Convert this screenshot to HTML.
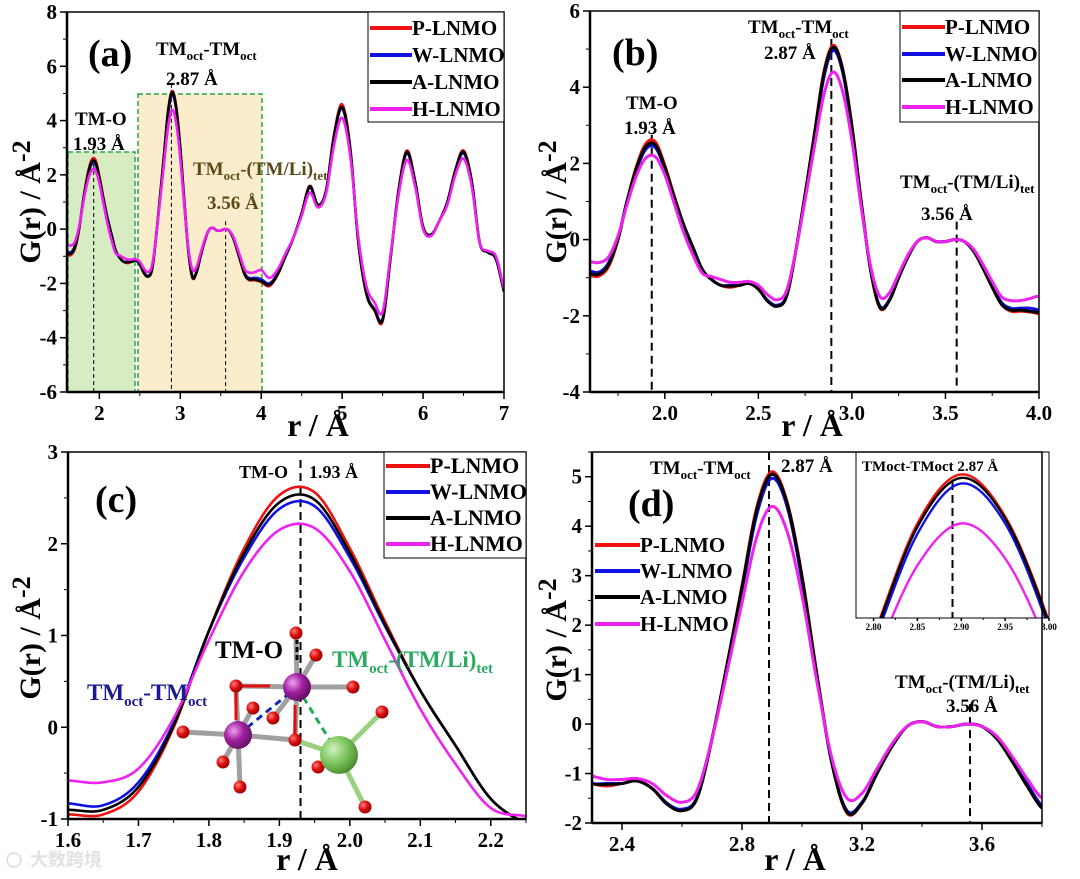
<!DOCTYPE html>
<html><head><meta charset="utf-8">
<style>
html,body{margin:0;padding:0;background:#fff;}
svg{display:block;font-family:"Liberation Serif","Noto Serif CJK SC",serif;font-weight:bold;}
</style></head>
<body>
<svg id="fig" width="1080" height="879" viewBox="0 0 1080 879" xmlns="http://www.w3.org/2000/svg">
<defs>
<clipPath id="clipA"><rect x="67" y="12" width="437" height="380"/></clipPath>
<clipPath id="clipB"><rect x="590" y="11" width="449" height="381"/></clipPath>
<clipPath id="clipC"><rect x="68" y="452" width="458" height="367"/></clipPath>
<clipPath id="clipD"><rect x="592" y="452" width="450" height="371"/></clipPath>
<clipPath id="clipI"><rect x="856" y="452" width="193" height="166"/></clipPath>
<radialGradient id="gP" cx="0.35" cy="0.35" r="0.7"><stop offset="0" stop-color="#f0a0f0"/><stop offset="0.5" stop-color="#a020a0"/><stop offset="1" stop-color="#601060"/></radialGradient>
<radialGradient id="gR" cx="0.35" cy="0.35" r="0.7"><stop offset="0" stop-color="#ff8080"/><stop offset="0.5" stop-color="#e01010"/><stop offset="1" stop-color="#900000"/></radialGradient>
<radialGradient id="gG" cx="0.35" cy="0.35" r="0.7"><stop offset="0" stop-color="#d0f0c0"/><stop offset="0.5" stop-color="#80c860"/><stop offset="1" stop-color="#4a8a30"/></radialGradient>
</defs>

<rect x="68" y="152" width="67" height="240" fill="#d8ecc4" stroke="#22aa44" stroke-width="1.5" stroke-dasharray="5,3"/>
<rect x="138" y="94" width="124" height="298" fill="#fbeccb" stroke="#22aa44" stroke-width="1.5" stroke-dasharray="5,3"/>

<g id="inset-bg"><rect x="856" y="452" width="193" height="166" fill="#fff"/></g>
<g id="series"></g>
<g id="axes"></g>

<text x="88" y="66" font-size="38">(a)</text>
<text x="156" y="55" font-size="19">TM<tspan font-size="13" dy="5">oct</tspan><tspan dy="-5">-TM</tspan><tspan font-size="13" dy="5">oct</tspan></text>
<text x="166" y="85" font-size="19">2.87 Å</text>
<text x="75" y="125" font-size="19">TM-O</text>
<text x="73" y="150" font-size="19">1.93 Å</text>
<text x="193" y="175" font-size="19" fill="#5a4a1a">TM<tspan font-size="13" dy="5">oct</tspan><tspan dy="-5">-(TM/Li)</tspan><tspan font-size="13" dy="5">tet</tspan></text>
<text x="207" y="209" font-size="19" fill="#5a4a1a">3.56 Å</text>

<text x="612" y="65" font-size="38">(b)</text>
<text x="626" y="109" font-size="19">TM-O</text>
<text x="624" y="134" font-size="19">1.93 Å</text>
<text x="748" y="33" font-size="19">TM<tspan font-size="13" dy="5">oct</tspan><tspan dy="-5">-TM</tspan><tspan font-size="13" dy="5">oct</tspan></text>
<text x="764" y="59" font-size="19">2.87 Å</text>
<text x="900" y="188" font-size="19">TM<tspan font-size="13" dy="5">oct</tspan><tspan dy="-5">-(TM/Li)</tspan><tspan font-size="13" dy="5">tet</tspan></text>
<text x="921" y="220" font-size="19">3.56 Å</text>

<text x="95" y="512" font-size="38">(c)</text>
<text x="239" y="478" font-size="18">TM-O</text>
<text x="309" y="478" font-size="18">1.93 Å</text>

<g id="molecule">
 <g stroke="#a0a0a0" stroke-width="5">
  <line x1="297" y1="687" x2="296" y2="633"/><line x1="297" y1="687" x2="316" y2="655"/>
  <line x1="297" y1="687" x2="236" y2="686"/><line x1="297" y1="687" x2="353" y2="687"/>
  <line x1="297" y1="687" x2="273" y2="718"/><line x1="297" y1="687" x2="295" y2="740"/>
  <line x1="238" y1="735" x2="253" y2="708"/><line x1="238" y1="735" x2="183" y2="732"/>
  <line x1="238" y1="735" x2="295" y2="740"/><line x1="238" y1="735" x2="223" y2="762"/>
  <line x1="238" y1="735" x2="240" y2="787"/><line x1="238" y1="735" x2="236" y2="686"/>
 </g>
 <g stroke="#9ad080" stroke-width="5">
  <line x1="339" y1="755" x2="382" y2="712"/><line x1="339" y1="755" x2="365" y2="807"/>
  <line x1="339" y1="755" x2="295" y2="740"/><line x1="339" y1="755" x2="318" y2="767"/>
 </g>
 <g stroke="#e01010" stroke-width="3">
  <line x1="236" y1="686" x2="270" y2="686"/><line x1="236" y1="686" x2="236" y2="720"/>
  <line x1="295" y1="740" x2="295" y2="705"/>
 </g>
 <line x1="238" y1="735" x2="297" y2="687" stroke="#1a2ab0" stroke-width="3" stroke-dasharray="7,5"/>
 <line x1="297" y1="687" x2="345" y2="765" stroke="#22aa55" stroke-width="3" stroke-dasharray="7,5"/>
 <line x1="297" y1="660" x2="297" y2="640" stroke="#000" stroke-width="3" stroke-dasharray="5,3"/>
 <g fill="url(#gR)">
  <circle cx="296" cy="633" r="6.5"/><circle cx="316" cy="655" r="6.5"/><circle cx="236" cy="686" r="6.5"/>
  <circle cx="353" cy="687" r="6.5"/><circle cx="253" cy="708" r="6.5"/><circle cx="273" cy="718" r="6.5"/>
  <circle cx="183" cy="732" r="6.5"/><circle cx="295" cy="740" r="6.5"/><circle cx="223" cy="762" r="6.5"/>
  <circle cx="318" cy="767" r="6.5"/><circle cx="240" cy="787" r="6.5"/><circle cx="382" cy="712" r="6.5"/>
  <circle cx="365" cy="807" r="6.5"/>
 </g>
 <circle cx="297" cy="687" r="14" fill="url(#gP)"/>
 <circle cx="238" cy="735" r="14" fill="url(#gP)"/>
 <circle cx="339" cy="755" r="19" fill="url(#gG)"/>
</g>
<text x="215" y="658" font-size="25">TM-O</text>
<text x="332" y="667" font-size="23" fill="#2aaa60">TM<tspan font-size="15" dy="6">oct</tspan><tspan dy="-6">-(TM/Li)</tspan><tspan font-size="15" dy="6">tet</tspan></text>
<text x="87" y="700" font-size="23" fill="#1a1a90">TM<tspan font-size="15" dy="6">oct</tspan><tspan dy="-6">-TM</tspan><tspan font-size="15" dy="6">oct</tspan></text>

<text x="628" y="516" font-size="38">(d)</text>
<text x="650" y="474" font-size="19">TM<tspan font-size="13" dy="5">oct</tspan><tspan dy="-5">-TM</tspan><tspan font-size="13" dy="5">oct</tspan></text>
<text x="781" y="472" font-size="19">2.87 Å</text>
<text x="895" y="688" font-size="19">TM<tspan font-size="13" dy="5">oct</tspan><tspan dy="-5">-(TM/Li)</tspan><tspan font-size="13" dy="5">tet</tspan></text>
<text x="946" y="712" font-size="19">3.56 Å</text>
<text x="862" y="471" font-size="15">TMoct-TMoct 2.87 Å</text>

<text x="30" y="866" font-size="18" fill="#e2e2e2" font-family="Noto Sans CJK SC, sans-serif">大数跨境</text>
<circle cx="14" cy="860" r="7" fill="none" stroke="#e2e2e2" stroke-width="2"/>
</svg>

<script>
const R = [1.60,1.65,1.70,1.75,1.80,1.85,1.90,1.95,2.00,2.05,2.10,2.15,2.20,2.25,2.30,2.35,2.40,2.45,2.50,2.55,2.60,2.65,2.70,2.75,2.80,2.85,2.90,2.95,3.00,3.05,3.10,3.15,3.20,3.25,3.30,3.35,3.40,3.45,3.50,3.55,3.60,3.65,3.70,3.75,3.80,3.85,3.90,3.95,4.00,
4.1,4.2,4.3,4.4,4.5,4.6,4.7,4.8,4.9,5.0,5.1,5.2,5.3,5.4,5.5,5.6,5.7,5.8,5.9,6.0,6.1,6.2,6.3,6.4,6.5,6.6,6.7,6.8,6.9,7.0];
const P_LNMO = [-0.95,-0.95,-0.7,0.0,1.05,1.95,2.53,2.56,1.95,1.15,0.4,-0.2,-0.78,-1.05,-1.2,-1.25,-1.2,-1.15,-1.3,-1.6,-1.75,-1.5,-0.3,1.2,2.8,4.4,5.1,4.5,3.0,1.0,-0.8,-1.8,-1.6,-1.0,-0.45,-0.05,0.05,-0.05,-0.05,0.0,-0.05,-0.3,-0.75,-1.25,-1.7,-1.88,-1.88,-1.9,-1.95,
-2.1,-1.7,-1.0,-0.3,0.6,1.6,0.9,1.4,3.5,4.6,3.0,-0.5,-2.4,-3.0,-3.4,-1.0,1.5,2.9,1.8,0.1,-0.2,0.3,1.0,2.2,2.9,1.8,-0.5,-0.85,-1.1,-2.3];
const W_LNMO = [-0.83,-0.85,-0.6,0.05,1.05,1.85,2.38,2.41,1.85,1.1,0.4,-0.2,-0.78,-1.05,-1.2,-1.2,-1.2,-1.15,-1.3,-1.6,-1.72,-1.48,-0.3,1.15,2.7,4.25,4.97,4.4,2.9,0.95,-0.8,-1.75,-1.58,-1.0,-0.45,-0.05,0.05,-0.05,-0.05,0.0,-0.05,-0.3,-0.72,-1.2,-1.65,-1.8,-1.8,-1.8,-1.85,
-2.0,-1.65,-1.0,-0.3,0.55,1.55,0.88,1.4,3.4,4.45,2.9,-0.45,-2.35,-2.95,-3.3,-1.0,1.45,2.8,1.75,0.05,-0.2,0.3,1.0,2.15,2.8,1.75,-0.5,-0.85,-1.1,-2.3];
const A_LNMO = [-0.9,-0.9,-0.65,0.02,1.05,1.9,2.45,2.48,1.9,1.12,0.4,-0.2,-0.78,-1.05,-1.2,-1.22,-1.2,-1.15,-1.3,-1.62,-1.75,-1.5,-0.3,1.2,2.77,4.35,5.05,4.47,2.97,0.98,-0.8,-1.78,-1.6,-1.0,-0.45,-0.05,0.05,-0.05,-0.05,0.0,-0.05,-0.3,-0.75,-1.25,-1.7,-1.85,-1.85,-1.88,-1.92,
-2.05,-1.68,-1.0,-0.3,0.58,1.58,0.9,1.4,3.45,4.5,2.95,-0.48,-2.38,-2.98,-3.35,-1.0,1.48,2.85,1.78,0.08,-0.2,0.3,1.0,2.18,2.85,1.78,-0.5,-0.85,-1.1,-2.3];
const H_LNMO = [-0.58,-0.6,-0.45,0.1,0.95,1.7,2.15,2.17,1.7,0.95,0.2,-0.4,-0.88,-0.97,-1.05,-1.12,-1.12,-1.1,-1.2,-1.45,-1.58,-1.35,-0.3,1.05,2.45,3.8,4.4,3.9,2.6,0.85,-0.7,-1.5,-1.4,-0.9,-0.4,-0.05,0.05,-0.05,-0.05,0.0,-0.05,-0.25,-0.65,-1.1,-1.5,-1.6,-1.6,-1.55,-1.5,
-1.8,-1.5,-0.9,-0.3,0.5,1.35,0.8,1.3,3.1,4.1,2.7,-0.3,-2.1,-2.7,-3.05,-0.9,1.3,2.55,1.6,0.0,-0.25,0.3,0.9,2.0,2.6,1.6,-0.5,-0.8,-1.0,-2.2];
const seriesNames = ["P-LNMO","W-LNMO","A-LNMO","H-LNMO"];
const seriesColors = ["#ee1111","#1010e0","#000000","#ee22ee"];
const seriesData = [P_LNMO, W_LNMO, A_LNMO, H_LNMO];
const peakPositions = [1.93, 2.89, 3.56];

const xTicksA = [2,3,4,5,6,7];       const yTicksA = [-6,-4,-2,0,2,4,6,8];
const xTicksB = [2.0,2.5,3.0,3.5,4.0]; const yTicksB = [-4,-2,0,2,4,6];
const xTicksC = [1.6,1.7,1.8,1.9,2.0,2.1,2.2]; const yTicksC = [-1,0,1,2,3];
const xTicksD = [2.4,2.8,3.2,3.6];   const yTicksD = [-2,-1,0,1,2,3,4,5];
const xTicksI = [2.80,2.85,2.90,2.95,3.00];

const NS = "http://www.w3.org/2000/svg";
const gS = document.getElementById('series');
const gA = document.getElementById('axes');
function mk(tag, attrs, parent){const e=document.createElementNS(NS,tag);for(const k in attrs)e.setAttribute(k,attrs[k]);parent.appendChild(e);return e;}

function slope(Y,k){
  if(k<=0) return (Y[1]-Y[0])/(R[1]-R[0]);
  if(k>=R.length-1) return (Y[k]-Y[k-1])/(R[k]-R[k-1]);
  return (Y[k+1]-Y[k-1])/(R[k+1]-R[k-1]);
}
function interp(Y, r){
  let i=0; while(i<R.length-2 && R[i+1]<r) i++;
  const x0=R[i],x1=R[i+1],y0=Y[i],y1=Y[i+1],h=x1-x0;
  const m0=slope(Y,i)*h,m1=slope(Y,i+1)*h,t=(r-x0)/h,t2=t*t,t3=t2*t;
  return (2*t3-3*t2+1)*y0+(t3-2*t2+t)*m0+(-2*t3+3*t2)*y1+(t3-t2)*m1;
}

const panels = [
 {id:'a',x0:1.6,x1:7.0,y0:-6,y1:8,L:67,Rr:504,T:12,B:392,clip:'clipA',xt:xTicksA,yt:yTicksA,xd:0,yd:0,xminor:0.5,yminor:1,lw:2.6,fs:21},
 {id:'b',x0:1.6,x1:4.0,y0:-4,y1:6,L:590,Rr:1039,T:11,B:392,clip:'clipB',xt:xTicksB,yt:yTicksB,xd:1,yd:0,xminor:0.25,yminor:1,lw:3,fs:21},
 {id:'c',x0:1.6,x1:2.25,y0:-1,y1:3,L:68,Rr:526,T:452,B:819,clip:'clipC',xt:xTicksC,yt:yTicksC,xd:1,yd:0,xminor:0.05,yminor:0.5,lw:2.6,fs:21},
 {id:'d',x0:2.3,x1:3.8,y0:-2,y1:5.5,L:592,Rr:1042,T:452,B:823,clip:'clipD',xt:xTicksD,yt:yTicksD,xd:1,yd:0,xminor:0.2,yminor:0.5,lw:3,fs:21},
 {id:'i',x0:2.78,x1:3.0,y0:3.05,y1:5.42,L:856,Rr:1049,T:452,B:618,clip:'clipI',xt:xTicksI,yt:[],xd:2,yd:0,xminor:0.025,yminor:1,lw:2.4,fs:9}
];

panels.forEach(p=>{
  const sx=v=>p.L+(v-p.x0)/(p.x1-p.x0)*(p.Rr-p.L);
  const sy=v=>p.B-(v-p.y0)/(p.y1-p.y0)*(p.B-p.T);
  peakPositions.forEach((pk,j)=>{
    if(pk<p.x0||pk>p.x1) return;
    if(p.id==='c'&&j>0) return;
    const ref = interp(P_LNMO, pk);
    let top = sy(ref)-8;
    if(p.id==='b'&&j===1) top=p.T+28;
    if(p.id==='d'&&(j===0||j===1)) top=p.T;
    if(p.id==='i') top=p.T+30;
    if(p.id==='c') top=p.T+8;
    if(p.id==='d'&&j===2) top=sy(0)-20;
    if(p.id==='b'&&j===2) top=sy(0)-18;
    if(p.id==='b'&&j===0) top=sy(ref)-5;
    const ln=mk('line',{x1:sx(pk),x2:sx(pk),y1:top,y2:p.B,stroke:'#000','stroke-width':p.id==='a'?1:2,'stroke-dasharray':p.id==='a'?'4,3':'8,5'},gS);
    
    
  });
  seriesData.forEach((Y,k)=>{
    let d='';
    const n=400;
    for(let s=0;s<=n;s++){
      const r=p.x0+(p.x1-p.x0)*s/n;
      d+=(s?'L':'M')+sx(r).toFixed(2)+','+sy(interp(Y,r)).toFixed(2);
    }
    const path=mk('path',{d:d,fill:'none',stroke:seriesColors[k],'stroke-width':p.lw,'clip-path':'url(#'+p.clip+')','stroke-linejoin':'round'},gS);
    
    
  });
  const fr=mk('rect',{x:p.L,y:p.T,width:p.Rr-p.L,height:p.B-p.T,fill:'none',stroke:'#000','stroke-width':p.id==='i'?1:1.5},gA);
  
  
  mk('line',{x1:p.L,x2:p.Rr,y1:p.B,y2:p.B,stroke:'#000','stroke-width':p.id==='i'?1:2.5},gA);
  mk('line',{x1:p.L,x2:p.L,y1:p.T,y2:p.B,stroke:'#000','stroke-width':p.id==='i'?1:2.5},gA);
  for(let v=Math.ceil(p.x0/p.xminor-1e-6)*p.xminor; v<=p.x1+1e-9; v+=p.xminor){
    mk('line',{x1:sx(v),x2:sx(v),y1:p.B,y2:p.B+(p.id==='i'?2:4),stroke:'#000','stroke-width':1},gA);
  }
  if(p.id!=='i') for(let v=Math.ceil(p.y0/p.yminor-1e-6)*p.yminor; v<=p.y1+1e-9; v+=p.yminor){
    mk('line',{x1:p.L-4,x2:p.L,y1:sy(v),y2:sy(v),stroke:'#000','stroke-width':1},gA);
  }
  p.xt.forEach(v=>{
    mk('line',{x1:sx(v),x2:sx(v),y1:p.B,y2:p.B+(p.id==='i'?3:7),stroke:'#000','stroke-width':1.5},gA);
    const t=mk('text',{x:sx(v),y:p.B+(p.id==='i'?12:28),'font-size':p.fs,'text-anchor':'middle'},gA);
    t.textContent=v.toFixed(p.xd);
    
    
  });
  p.yt.forEach(v=>{
    mk('line',{x1:p.L-7,x2:p.L,y1:sy(v),y2:sy(v),stroke:'#000','stroke-width':1.5},gA);
    const t=mk('text',{x:p.L-10,y:sy(v)+7,'font-size':p.fs,'text-anchor':'end'},gA);
    t.textContent=v.toFixed(p.yd);
    
    
  });
});

[[318,436,'a'],[812,436,'b'],[307,870,'c'],[795,870,'d']].forEach(a=>{
  const t=mk('text',{x:a[0],y:a[1],'font-size':32,'text-anchor':'middle'},gA);
  t.textContent='r / Å';
  
  
});
[[40,202,'a'],[566,202,'b'],[40,638,'c'],[566,640,'d']].forEach(a=>{
  const t=mk('text',{x:0,y:0,'font-size':30,'text-anchor':'middle',transform:'translate('+a[0]+','+a[1]+') rotate(-90)'},gA);
  t.textContent='G(r) / Å';
  const sup=mk('tspan',{dy:-10,'font-size':26},t);
  sup.textContent='-2';
  
  
});

const legends=[
 {id:'a',box:[368,12,136,110],x1:370,x2:412,tx:412,ys:[28,55,82,109],fs:21},
 {id:'b',box:[900,11,139,111],x1:902,x2:945,tx:945,ys:[27,54,80,107],fs:21},
 {id:'c',box:[384,452,142,106],x1:386,x2:430,tx:430,ys:[466,492,518,544],fs:22},
 {id:'d',box:null,x1:595,x2:640,tx:640,ys:[545,571,597,624],fs:21}
];
legends.forEach(l=>{
  if(l.box){
    const b=mk('rect',{x:l.box[0],y:l.box[1],width:l.box[2],height:l.box[3],fill:'#fff',stroke:'#000','stroke-width':1},gA);
    
    
  }
  seriesNames.forEach((nm,k)=>{
    mk('line',{x1:l.x1,x2:l.x2,y1:l.ys[k],y2:l.ys[k],stroke:seriesColors[k],'stroke-width':4},gA);
    const t=mk('text',{x:l.tx,y:l.ys[k]+7,'font-size':l.fs},gA);
    t.textContent=nm;
    
    
  });
});
</script>
</body></html>
